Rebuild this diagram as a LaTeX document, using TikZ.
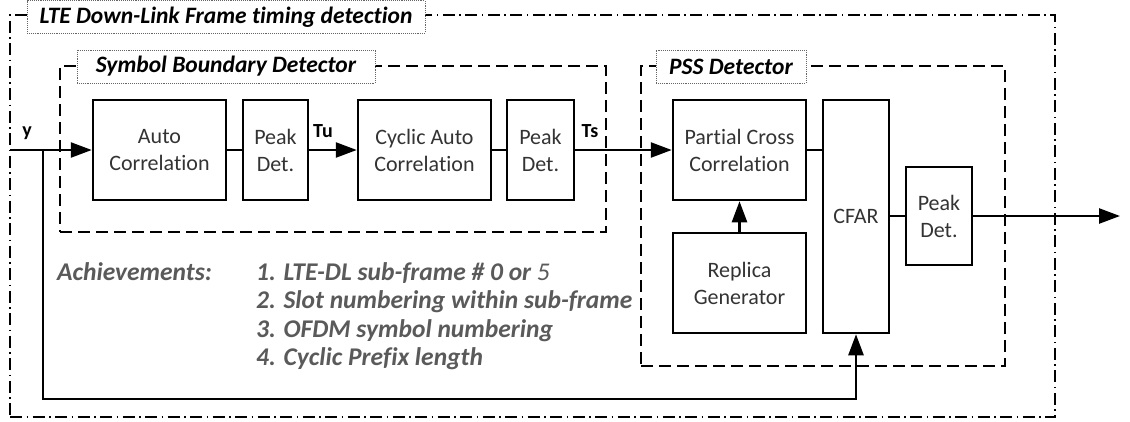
\documentclass[tikz,border=0pt]{standalone}
\usepackage{fontspec}
\setmainfont[Ligatures={NoCommon}]{Carlito}
\usetikzlibrary{arrows.meta}
\definecolor{achgray}{HTML}{5A5A5A}
\definecolor{boxtext}{HTML}{333333}

\begin{document}
\begin{tikzpicture}[x=1pt,y=-1pt,
  block/.style={draw, line width=2.5pt, inner sep=0pt, align=center, text=boxtext,
    font=\fontsize{22}{27}\selectfont},
  wire/.style={line width=2.5pt},
  arr/.style={wire, -{Triangle[length=21pt,width=15pt]}},
  group/.style={draw, line width=1.4pt, dash pattern=on 12pt off 6pt, inner sep=0pt},
  frame/.style={draw, line width=1.3pt, dash pattern=on 12pt off 4.5pt on 1.5pt off 4.5pt, inner sep=0pt},
  caption/.style={draw=black!60, densely dotted, line width=0.9pt, fill=white, inner sep=0pt,
    font=\fontsize{23.5}{28}\selectfont\bfseries\itshape},
  sig/.style={inner sep=0pt, font=\fontsize{20}{22}\selectfont\bfseries},
  ach/.style={inner sep=0pt, text=achgray, font=\fontsize{25.5}{29}\selectfont\bfseries\itshape}
]
\useasboundingbox (0,0) rectangle (1130,421);

% outer frame and the two detector groups
\node[frame, minimum width=1045pt, minimum height=402pt] (outer) at (532.5,216) {};
\node[group, minimum width=546pt, minimum height=166pt] (sbd) at (333,149) {};
\node[group, minimum width=364pt, minimum height=300pt] (pss) at (823,216) {};

% captions
\node[caption, minimum width=398pt, minimum height=32.5pt] (outercap) at (226,16.75) {LTE Down-Link Frame timing detection};
\node[caption, minimum width=298pt, minimum height=33pt] (sbdcap) at (226,66.5) {Symbol Boundary Detector};
\node[caption, minimum width=150pt, minimum height=33pt] (psscap) at (731,66.5) {PSS Detector};

% processing blocks
\node[block, minimum width=133pt, minimum height=100pt] (ac) at (159.5,150) {Auto\\Correlation};
\node[block, minimum width=65pt, minimum height=100pt] (pd1) at (275.5,150) {Peak\\Det.};
\node[block, minimum width=133pt, minimum height=100pt] (cac) at (424.5,150) {Cyclic Auto\\Correlation};
\node[block, minimum width=67pt, minimum height=100pt] (pd2) at (540.5,150) {Peak\\Det.};
\node[block, minimum width=133pt, minimum height=100pt] (pcc) at (739.5,150) {Partial Cross\\Correlation};
\node[block, minimum width=133pt, minimum height=100pt] (rg) at (739.5,283) {Replica\\Generator};
\node[block, minimum width=66pt, minimum height=233pt] (cfar) at (856,216.5) {CFAR};
\node[block, minimum width=66pt, minimum height=98pt] (pd3) at (939,216) {Peak\\Det.};

% signal labels
\node[sig] (ylab) at (27,133) {y};
\node[sig] (tulab) at (323,131) {Tu};
\node[sig] (tslab) at (590,131) {Ts};

% connectors
\coordinate (in) at (10,150);
\coordinate (tap) at (43,150);
\coordinate (ret) at (43,399);
\coordinate (out) at (1120,216);
\draw[arr] (in) -- (ac.west);
\draw[wire] (ac) -- (pd1);
\draw[arr] (pd1) -- (cac);
\draw[wire] (cac) -- (pd2);
\draw[arr] (pd2) -- (pcc);
\draw[wire] (pcc.east) -- (pcc.east -| cfar.west);
\draw[arr] (rg) -- (pcc);
\draw[wire] (cfar.east |- pd3.west) -- (pd3.west);
\draw[arr] (pd3) -- (out);
\draw[arr] (tap) -- (ret) -| (cfar.south);

% achievements
\node[ach, anchor=base west] (achhead) at (57,280) {Achievements:};
\node[ach, anchor=base west] (ach1) at (256,280) {1. LTE-DL sub-frame \# 0 or {\mdseries 5}};
\node[ach, anchor=base west] (ach2) at (256,308.5) {2. Slot numbering within sub-frame};
\node[ach, anchor=base west] (ach3) at (256,337) {3. OFDM symbol numbering};
\node[ach, anchor=base west] (ach4) at (256,365.5) {4. Cyclic Prefix length};
\end{tikzpicture}
\end{document}
